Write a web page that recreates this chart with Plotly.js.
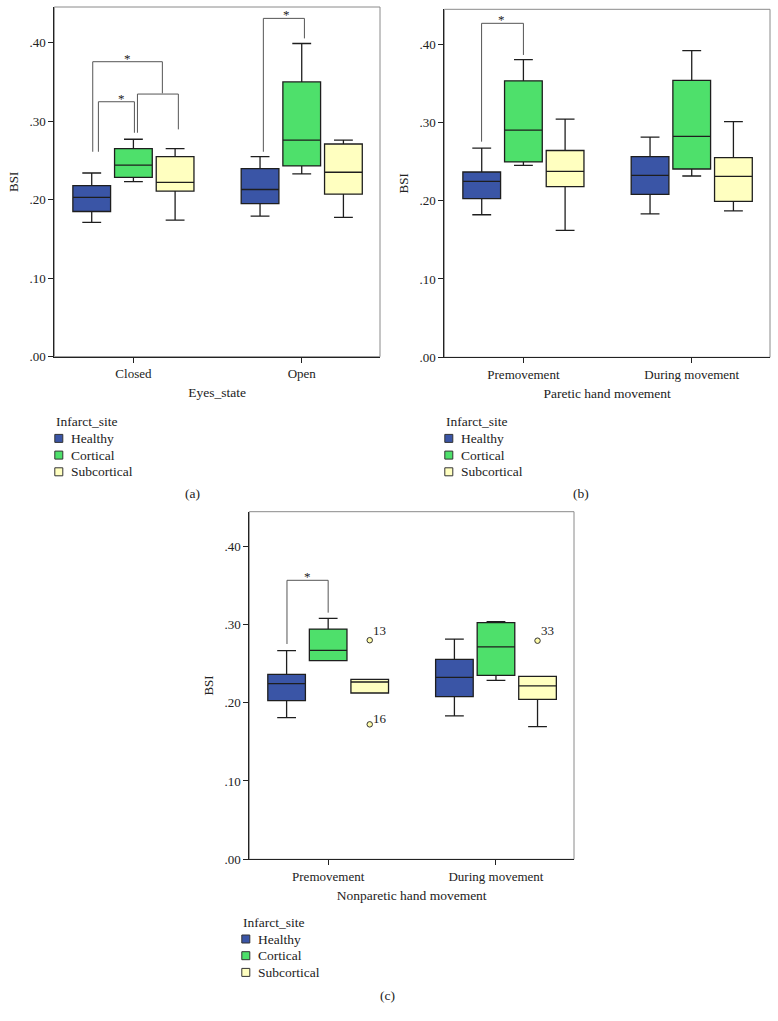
<!DOCTYPE html>
<html><head><meta charset="utf-8">
<script src="https://cdn.plot.ly/plotly-3.0.1.min.js"></script>
<style>html,body{margin:0;padding:0;background:#fff}#chart{width:778px;height:1021px}</style>
</head><body><div id="chart"></div>
<script>
// ---------------- DATA ----------------
const seriesNames = ['Healthy', 'Cortical', 'Subcortical'];
const seriesColors = ['#3a55a6', '#4ee06b', '#ffffc0'];
const legendTitle = 'Infarct_site';
const eyesStates = ['Closed', 'Open'];
const movementPhases = ['Premovement', 'During movement'];
const yTickVals = [0, 0.1, 0.2, 0.3, 0.4];
const yTickText = ['.00', '.10', '.20', '.30', '.40'];
const yTitle = 'BSI';
const xTitles = ['Eyes_state', 'Paretic hand movement', 'Nonparetic hand movement'];
const panelLetters = ['(a)', '(b)', '(c)'];

// Panel (a): rows = Healthy, Cortical, Subcortical ; cols = Closed, Open
const aLowerFence = [[0.171, 0.179], [0.223, 0.233], [0.174, 0.1775]];
const aQ1         = [[0.185, 0.195], [0.2285, 0.243], [0.211, 0.207]];
const aMedian     = [[0.203, 0.213], [0.244, 0.276], [0.222, 0.235]];
const aQ3         = [[0.218, 0.2395], [0.265, 0.350], [0.255, 0.271]];
const aUpperFence = [[0.234, 0.255], [0.277, 0.399], [0.265, 0.276]];

// Panel (b): cols = Premovement, During movement
const bLowerFence = [[0.182, 0.183], [0.245, 0.2315], [0.162, 0.187]];
const bQ1         = [[0.2026, 0.208], [0.2494, 0.2404], [0.218, 0.199]];
const bMedian     = [[0.2247, 0.2323], [0.290, 0.282], [0.2374, 0.231]];
const bQ3         = [[0.2366, 0.2562], [0.353, 0.3536], [0.264, 0.255]];
const bUpperFence = [[0.267, 0.281], [0.380, 0.3915], [0.304, 0.301]];

// Panel (c)
const cLowerFence = [[0.181, 0.183], [0.2536, 0.2285], [0.2123, 0.1694]];
const cQ1         = [[0.2026, 0.2077], [0.2536, 0.2349], [0.2123, 0.2043]];
const cMedian     = [[0.2243, 0.2323], [0.2668, 0.2711], [0.2264, 0.2213]];
const cQ3         = [[0.2362, 0.2553], [0.294, 0.3021], [0.2298, 0.2336]];
const cUpperFence = [[0.2664, 0.281], [0.3077, 0.3034], [0.2298, 0.2336]];
const cSubcorticalOutliers = [[0.2797, 0.1723], [0.2791]];
const cOutlierCases = [['13', '16'], ['33']];

// significance brackets: [x0, x1, yLeftEnd, yTop, yRightEnd, starX] (category-index units)
const aBrackets = [
  [-0.2416, 0.172, 0.2611, 0.3758, 0.3355, -0.034],
  [-0.208, 0.006, 0.2611, 0.3248, 0.2853, -0.073],
  [0.024, 0.267, 0.2853, 0.3346, 0.2896, null],
  [0.772, 1.016, 0.2611, 0.431, 0.4055, 0.911]
];
const bBrackets = [[-0.2485, 0.0, 0.2753, 0.4264, 0.386, -0.133]];
const cBrackets = [[-0.2455, 0.0, 0.2749, 0.3562, 0.3149, -0.125]];

// ---------------- LAYOUT CONSTANTS ----------------
const W = 778, H = 1021;
const FONT = 'Liberation Serif, Times New Roman, serif';
const TXT = '#222';
const BOXGAP = 0.257, BOXGROUPGAP = 0.095;
const slot = (1 - BOXGAP) / 3;
const px = x => x / W;
const py = y => 1 - y / H;

const panels = [
  {cats: eyesStates, lf: aLowerFence, q1: aQ1, med: aMedian, q3: aQ3, uf: aUpperFence, brackets: aBrackets,
   xd: [54.3, 380], yd: [7, 356.7], ytop: 0.4455, legend: {x: 54.3, y: 421.7}, letter: {x: 192, y: 494}},
  {cats: movementPhases, lf: bLowerFence, q1: bQ1, med: bMedian, q3: bQ3, uf: bUpperFence, brackets: bBrackets,
   xd: [444.3, 770], yd: [9.3, 357.3], ytop: 0.4443, legend: {x: 444.3, y: 421.7}, letter: {x: 581, y: 494}},
  {cats: movementPhases, lf: cLowerFence, q1: cQ1, med: cMedian, q3: cQ3, uf: cUpperFence, brackets: cBrackets,
   xd: [249.3, 574], yd: [511.7, 859.3], ytop: 0.4438, legend: {x: 241.3, y: 922.3}, letter: {x: 387.3, y: 995},
   outliers: cSubcorticalOutliers, outlierCases: cOutlierCases}
];

const traces = [];
const layout = {
  width: W, height: H, margin: {l: 0, r: 0, t: 0, b: 0},
  paper_bgcolor: '#fff', plot_bgcolor: '#fff', showlegend: false,
  boxmode: 'group', boxgap: BOXGAP, boxgroupgap: BOXGROUPGAP,
  font: {family: FONT, size: 13, color: TXT},
  shapes: [], annotations: []
};

panels.forEach((p, k) => {
  const sfx = k === 0 ? '' : String(k + 1);
  const xa = 'x' + sfx, ya = 'y' + sfx;
  layout['xaxis' + sfx] = {
    domain: [px(p.xd[0]), px(p.xd[1])], anchor: ya, type: 'category',
    categoryorder: 'array', categoryarray: p.cats, range: [-0.47, 1.465],
    showline: true, linecolor: '#222', linewidth: 1, mirror: false,
    ticks: 'outside', ticklen: 5, tickcolor: '#222', tickwidth: 1,
    showgrid: false, zeroline: false, fixedrange: true,
    tickfont: {family: FONT, size: 13, color: TXT},
    title: {text: xTitles[k], font: {family: FONT, size: 13.5, color: TXT}, standoff: 7}
  };
  layout['yaxis' + sfx] = {
    domain: [py(p.yd[1]), py(p.yd[0])], anchor: xa, range: [0, p.ytop],
    tickmode: 'array', tickvals: yTickVals, ticktext: yTickText,
    showline: true, linecolor: '#222', linewidth: 1, mirror: false,
    ticks: 'outside', ticklen: 5, tickcolor: '#222', tickwidth: 1,
    showgrid: false, zeroline: false, fixedrange: true,
    tickfont: {family: FONT, size: 13, color: TXT},
    title: {text: yTitle, font: {family: FONT, size: 13, color: TXT}, standoff: 7}
  };
  // frame
  layout.shapes.push({type: 'rect', xref: xa + ' domain', yref: ya + ' domain', x0: 0, x1: 1, y0: 0, y1: 1,
    line: {color: '#8a8a8a', width: 1}, layer: 'below'});

  seriesNames.forEach((name, s) => {
    const t = {
      type: 'box', name: name, x: p.cats, xaxis: xa, yaxis: ya, orientation: 'v',
      q1: p.q1[s], median: p.med[s], q3: p.q3[s], lowerfence: p.lf[s], upperfence: p.uf[s],
      fillcolor: seriesColors[s], line: {color: '#1e1e1e', width: 1.3}, whiskerwidth: 0.5,
      offsetgroup: name, showlegend: false, hoverinfo: 'skip', boxpoints: false
    };
    if (p.outliers && s === 2) {
      t.y = p.outliers;
      t.boxpoints = 'outliers';
      t.jitter = 0; t.pointpos = 0;
      t.marker = {color: '#fffca8', size: 5.5, line: {color: '#333', width: 1}};
    }
    traces.push(t);
  });

  // outlier case labels
  if (p.outliers) {
    p.outliers.forEach((vals, ci) => vals.forEach((v, j) => {
      layout.annotations.push({xref: xa, yref: ya, x: ci + slot, y: v, text: p.outlierCases[ci][j],
        showarrow: false, xanchor: 'left', yanchor: 'middle', xshift: 1, yshift: v > 0.25 ? 10 : 6,
        font: {family: FONT, size: 13, color: TXT}});
    }));
  }

  // significance brackets
  p.brackets.forEach(b => {
    layout.shapes.push({type: 'path', xref: xa, yref: ya, layer: 'above',
      path: `M ${b[0]},${b[2]} L ${b[0]},${b[3]} L ${b[1]},${b[3]} L ${b[1]},${b[4]}`,
      line: {color: '#555', width: 1}});
    if (b[5] !== null) {
      layout.annotations.push({xref: xa, yref: ya, x: b[5], y: b[3], text: '*', showarrow: false,
        xanchor: 'center', yanchor: 'bottom', yshift: -6, font: {family: FONT, size: 13, color: '#222'}});
    }
  });

  // legend (title + swatches)
  layout.annotations.push({xref: 'paper', yref: 'paper', x: px(p.legend.x), y: py(p.legend.y), text: legendTitle,
    showarrow: false, xanchor: 'left', yanchor: 'middle', font: {family: FONT, size: 13.5, color: TXT}});
  seriesNames.forEach((name, s) => {
    const cy = p.legend.y + 16.7 * (s + 1);
    layout.shapes.push({type: 'rect', xref: 'paper', yref: 'paper',
      x0: px(p.legend.x + 0.5), x1: px(p.legend.x + 8.5), y0: py(cy + 4), y1: py(cy - 4),
      fillcolor: seriesColors[s], line: {color: '#333', width: 1}});
    layout.annotations.push({xref: 'paper', yref: 'paper', x: px(p.legend.x + 15), y: py(cy), text: name,
      showarrow: false, xanchor: 'left', yanchor: 'middle', font: {family: FONT, size: 13.5, color: TXT}});
  });
  layout.annotations.push({xref: 'paper', yref: 'paper', x: px(p.letter.x), y: py(p.letter.y), text: panelLetters[k],
    showarrow: false, xanchor: 'center', yanchor: 'middle', font: {family: FONT, size: 13.5, color: TXT}});
});

Plotly.newPlot('chart', traces, layout, {staticPlot: true, displayModeBar: false});
</script>
</body></html>
